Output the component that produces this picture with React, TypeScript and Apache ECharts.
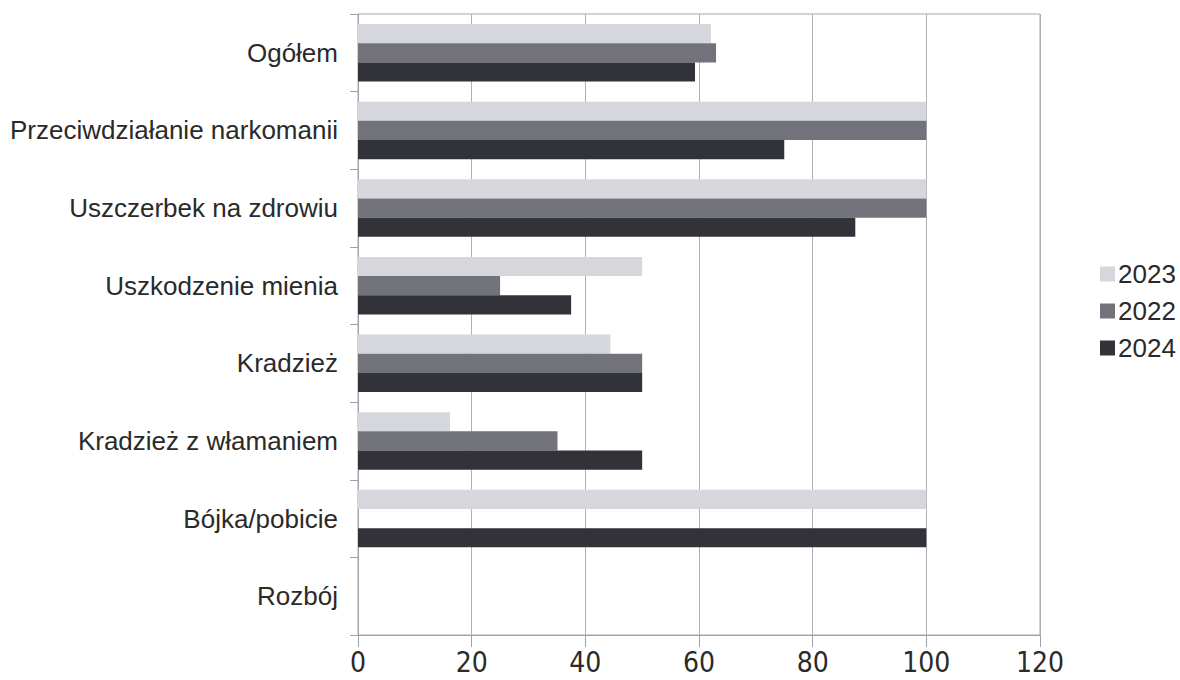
import React, { useEffect, useRef } from "react";
import * as echarts from "echarts";

const categories = [
  "Ogółem",
  "Przeciwdziałanie narkomanii",
  "Uszczerbek na zdrowiu",
  "Uszkodzenie mienia",
  "Kradzież",
  "Kradzież z włamaniem",
  "Bójka/pobicie",
  "Rozbój",
];
const seriesNames = ["2023", "2022", "2024"];
const values2023 = [62.1, 100, 100, 50, 44.4, 16.2, 100, 0];
const values2022 = [63, 100, 100, 25, 50, 35.1, 0, 0];
const values2024 = [59.3, 75, 87.5, 37.5, 50, 50, 100, 0];
const xTicks = { min: 0, max: 120, interval: 20 };
const colors = ["#d5d7dd", "#72727a", "#323239"];

const FONT = "'Liberation Sans', Arial, sans-serif";
const NARROW = "'Liberation Sans Narrow', 'DejaVu Sans Condensed', 'Liberation Sans', sans-serif";

export default function App() {
  const ref = useRef<HTMLDivElement>(null);
  useEffect(() => {
    if (!ref.current) return;
    const chart = echarts.init(ref.current, null, { renderer: "svg" });
    const data = [values2023, values2022, values2024];
    chart.setOption({
      animation: false,
      textStyle: { fontFamily: FONT },
      grid: {
        left: 358,
        right: 140,
        top: 14,
        bottom: 45,
        show: true,
        borderColor: "#a8a8b0",
        borderWidth: 1,
        containLabel: false,
      },
      legend: {
        orient: "vertical",
        left: 1095,
        top: 256,
        itemWidth: 15,
        itemHeight: 15,
        itemGap: 11,
        icon: "rect",
        data: seriesNames,
        textStyle: { fontSize: 26, color: "#2a2a2a", fontFamily: FONT, padding: [0, 0, 0, -2] },
      },
      xAxis: {
        type: "value",
        min: xTicks.min,
        max: xTicks.max,
        interval: xTicks.interval,
        axisLine: { show: true, lineStyle: { color: "#a0a0a8", width: 1 } },
        axisTick: { show: true, length: 12, lineStyle: { color: "#a0a0a8" } },
        splitLine: { show: true, lineStyle: { color: "#b0b0b8", width: 1 } },
        axisLabel: { fontSize: 28, color: "#2a2a2a", margin: 13, fontFamily: NARROW },
      },
      yAxis: {
        type: "category",
        inverse: true,
        data: categories,
        axisLine: { show: true, lineStyle: { color: "#a0a0a8", width: 1 } },
        axisTick: { show: true, length: 8, lineStyle: { color: "#a0a0a8" } },
        axisLabel: { fontSize: 26, color: "#2a2a2a", margin: 20, fontFamily: FONT },
      },
      series: seriesNames.map((name, i) => ({
        name,
        type: "bar",
        data: data[i],
        barGap: "0%",
        barCategoryGap: "26%",
        itemStyle: { color: colors[i] },
      })),
    });
    return () => chart.dispose();
  }, []);
  return <div ref={ref} style={{ width: 1180, height: 680, position: "absolute", left: 0, top: 0, background: "#fff" }} />;
}
